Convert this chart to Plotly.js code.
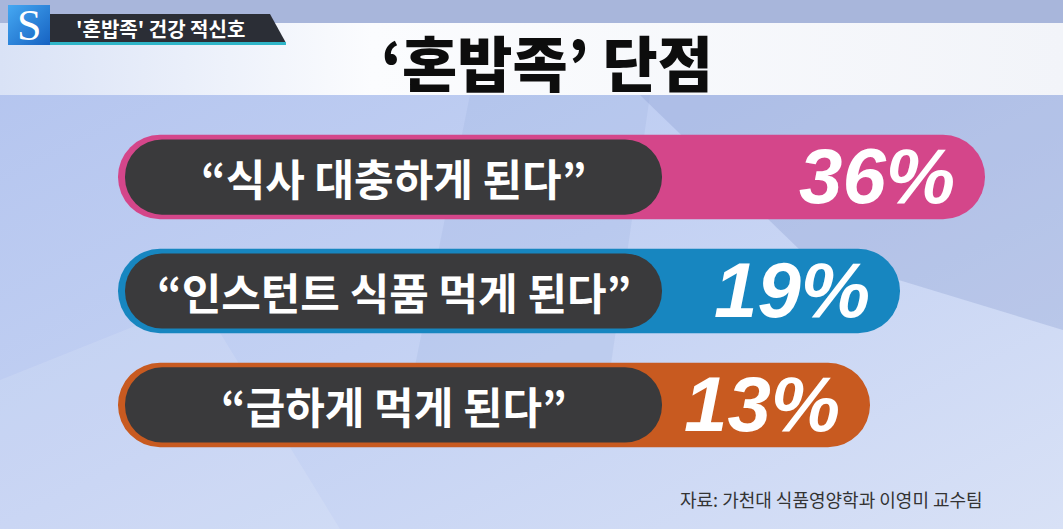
<!DOCTYPE html>
<html>
<head>
<meta charset="utf-8">
<script src="https://cdn.plot.ly/plotly-3.0.1.min.js"></script>
<style>
  html, body { margin: 0; padding: 0; }
  #chart { width: 1063px; height: 529px; }
</style>
</head>
<body>
<div id="chart"></div>
<script>
// data
const labels = ["“식사 대충하게 된다”", "“인스턴트 식품 먹게 된다”", "“급하게 먹게 된다”"];
const values = [36, 19, 13];
const barColors = ["#d4468a", "#1786c0", "#c85a20"];

const W = 1063, H = 529;
// x axis: 5px per percent, 0% sits at pixel 805
const LEFT = -137.4;       // left end of coloured pill
const DARK_L = -136.0, DARK_R = -28.6;
const DARK = "#3a3a3c";

const px = (x) => x / W;
const py = (y) => 1 - y / H;

const bgSvg = `<svg xmlns='http://www.w3.org/2000/svg' width='1063' height='529' viewBox='0 0 1063 529'>
<defs>
<linearGradient id='g' x1='0' y1='0' x2='1' y2='1'>
<stop offset='0' stop-color='#b2c3ee'/><stop offset='0.5' stop-color='#c3d1f3'/><stop offset='1' stop-color='#d8e1f6'/></linearGradient>
<linearGradient id='b' x1='0' y1='0' x2='1' y2='0'>
<stop offset='0' stop-color='#d9e2f6'/><stop offset='0.35' stop-color='#fbfcfe'/><stop offset='1' stop-color='#f2f4f9'/></linearGradient>
<linearGradient id='s' x1='0' y1='0' x2='1' y2='1'>
<stop offset='0' stop-color='#45a8f2'/><stop offset='1' stop-color='#1662c2'/></linearGradient>
</defs>
<rect width='1063' height='529' fill='url(#g)'/>
<polygon points='640,95 1063,95 1063,330 800,250' fill='#8699cc' opacity='0.3'/>
<polygon points='470,95 650,95 600,440 400,440' fill='#8b9fd4' opacity='0.16'/>
<polygon points='0,380 200,300 340,529 0,529' fill='#ffffff' opacity='0.12'/>
<rect y='0' width='1063' height='23' fill='#a8b6db'/>
<rect y='23' width='1063' height='72' fill='url(#b)'/>
<polygon points='50,14 270,14 286,43 50,43' fill='#2b2e36'/>
<rect x='50' y='42' width='236' height='3' fill='#2fb5c8'/>
<rect x='8' y='5' width='42' height='40' fill='url(#s)'/>
</svg>`;

const hidden = {visible: false, fixedrange: true};

const data = [
    {   // coloured pill, from the left end to the value
        type: "bar", orientation: "h",
        y: labels, x: values.map(v => v - LEFT), base: LEFT, width: 0.74,
        marker: {color: barColors, cornerradius: "50%", line: {width: 0}},
        hoverinfo: "skip"
    },
    {   // dark label pill
        type: "bar", orientation: "h",
        y: labels, x: labels.map(() => DARK_R - DARK_L), base: DARK_L, width: 0.66,
        marker: {color: DARK, cornerradius: "50%", line: {width: 0}},
        hoverinfo: "skip"
    }
];

const annotations = [];
labels.forEach((lab, i) => {
    annotations.push({
        x: (DARK_L + DARK_R) / 2, y: lab, xref: "x", yref: "y",
        text: lab, showarrow: false, xanchor: "center", yanchor: "middle",
        font: {family: "Noto Sans CJK KR", size: 43, color: "#ffffff", weight: "bold"}
    });
    annotations.push({
        x: values[i], y: lab, xref: "x", yref: "y",
        text: values[i] + "%", showarrow: false, xanchor: "right", yanchor: "middle",
        xshift: -28, yshift: 1,
        font: {family: "Liberation Sans", size: 78, color: "#ffffff", weight: "bold", style: "italic"}
    });
});

annotations.push(
    {   // main title
        x: px(547), y: py(61), xref: "paper", yref: "paper",
        text: "‘혼밥족’ 단점", showarrow: false, xanchor: "center", yanchor: "middle",
        font: {family: "Noto Sans CJK KR", size: 60, color: "#0d0d0d", weight: 900}
    },
    {   // channel logo
        x: px(29), y: py(25), xref: "paper", yref: "paper",
        text: "S", showarrow: false, xanchor: "center", yanchor: "middle",
        font: {family: "Liberation Serif", size: 44, color: "#ffffff"}
    },
    {   // header tab
        x: px(74), y: py(29), xref: "paper", yref: "paper",
        text: "'혼밥족' 건강 적신호", showarrow: false, xanchor: "left", yanchor: "middle",
        font: {family: "Noto Sans CJK KR", size: 20, color: "#ffffff", weight: "bold"}
    },
    {   // source
        x: px(985), y: py(499), xref: "paper", yref: "paper",
        text: "자료: 가천대 식품영양학과 이영미 교수팀", showarrow: false,
        xanchor: "right", yanchor: "middle",
        font: {family: "Noto Sans CJK KR", size: 18, color: "#333333"}
    }
);

const layout = {
    width: W,
    height: H,
    margin: {t: 0, b: 0, l: 0, r: 0},
    paper_bgcolor: "#b9c8ee",
    plot_bgcolor: "rgba(0,0,0,0)",
    barmode: "overlay",
    showlegend: false,
    xaxis: Object.assign({range: [-161, 51.6]}, hidden),
    yaxis: Object.assign({type: "category", categoryarray: labels, range: [3.088, -1.553]}, hidden),
    images: [{
        source: "data:image/svg+xml;charset=utf-8," + encodeURIComponent(bgSvg),
        xref: "paper", yref: "paper", x: 0, y: 1, sizex: 1, sizey: 1,
        xanchor: "left", yanchor: "top", sizing: "stretch", layer: "below"
    }],
    annotations: annotations
};

Plotly.newPlot("chart", data, layout, {displayModeBar: false, staticPlot: true});
</script>
</body>
</html>
